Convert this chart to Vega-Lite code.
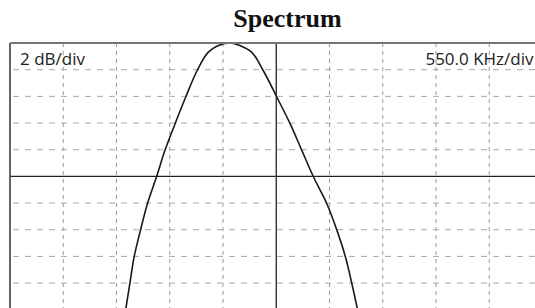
{
  "$schema": "https://vega.github.io/schema/vega-lite/v6.json",
  "width": 525,
  "height": 265,
  "autosize": {"type": "none"},
  "padding": {"left": 10, "top": 43, "right": 0, "bottom": 0},
  "background": "white",
  "title": {"text": "Spectrum", "font": "Liberation Serif", "fontSize": 26, "fontWeight": "bold", "color": "#111111", "anchor": "middle", "dx": 15, "offset": 10},
  "config": {
    "view": {"stroke": null}
  },
  "datasets": {
    "curve": [
      {"f": -2.83, "db": -20.05}, {"f": -2.75, "db": -18.05}, {"f": -2.67, "db": -16.05},
      {"f": -2.55, "db": -14.05}, {"f": -2.42, "db": -12.05}, {"f": -2.25, "db": -10.05},
      {"f": -2.09, "db": -8.05}, {"f": -1.90, "db": -6.05}, {"f": -1.70, "db": -4.05},
      {"f": -1.49, "db": -2.1}, {"f": -1.28, "db": -0.7},
      {"f": -1.06, "db": -0.15}, {"f": -0.88, "db": 0}, {"f": -0.71, "db": -0.15},
      {"f": -0.46, "db": -0.7}, {"f": -0.24, "db": -2.1}, {"f": 0.01, "db": -4.05},
      {"f": 0.26, "db": -6.05}, {"f": 0.48, "db": -8.05}, {"f": 0.70, "db": -10.05},
      {"f": 0.95, "db": -12.05}, {"f": 1.14, "db": -14.05}, {"f": 1.30, "db": -16.05},
      {"f": 1.42, "db": -18.05}, {"f": 1.53, "db": -20.05}
    ],
    "grid_v": [{"f": -4}, {"f": -3}, {"f": -2}, {"f": -1}, {"f": 1}, {"f": 2}, {"f": 3}, {"f": 4}],
    "grid_h": [{"db": -2}, {"db": -4}, {"db": -6}, {"db": -8}, {"db": -12}, {"db": -14}, {"db": -16}, {"db": -18}],
    "center_v": [{"f": 0}],
    "center_h": [{"db": -10}],
    "border_v": [{"f": -5}],
    "border_h": [{"db": 0}],
    "labels": [{"f": -5, "db": 0, "label": "2 dB/div"}],
    "labels_r": [{"f": 5, "db": 0, "label": "550.0 KHz/div"}]
  },
  "layer": [
    {
      "data": {"name": "grid_v"},
      "mark": {"type": "rule", "color": "#9a9a9a", "strokeWidth": 1, "strokeDash": [4, 4]},
      "encoding": {"x": {"field": "f", "type": "quantitative", "scale": {"domain": [-5, 4.859], "nice": false, "zero": false}, "axis": null}}
    },
    {
      "data": {"name": "grid_h"},
      "mark": {"type": "rule", "color": "#a8a8a8", "strokeWidth": 1, "strokeDash": [6, 6]},
      "encoding": {"y": {"field": "db", "type": "quantitative", "scale": {"domain": [-19.87, 0], "nice": false, "zero": false}, "axis": null}}
    },
    {
      "data": {"name": "curve"},
      "mark": {"type": "line", "interpolate": "catmull-rom", "clip": true, "color": "#1a1a1a", "strokeWidth": 1.6},
      "encoding": {
        "x": {"field": "f", "type": "quantitative", "scale": {"domain": [-5, 4.859], "nice": false, "zero": false}, "axis": null},
        "y": {"field": "db", "type": "quantitative", "scale": {"domain": [-19.87, 0], "nice": false, "zero": false}, "axis": null}
      }
    },
    {
      "data": {"name": "center_v"},
      "mark": {"type": "rule", "color": "#222222", "strokeWidth": 1.3},
      "encoding": {"x": {"field": "f", "type": "quantitative", "axis": null}}
    },
    {
      "data": {"name": "center_h"},
      "mark": {"type": "rule", "color": "#222222", "strokeWidth": 1.3},
      "encoding": {"y": {"field": "db", "type": "quantitative", "axis": null}}
    },
    {
      "data": {"name": "border_v"},
      "mark": {"type": "rule", "color": "#555555", "strokeWidth": 1.8},
      "encoding": {"x": {"field": "f", "type": "quantitative", "axis": null}}
    },
    {
      "data": {"name": "border_h"},
      "mark": {"type": "rule", "color": "#777777", "strokeWidth": 1.8},
      "encoding": {"y": {"field": "db", "type": "quantitative", "axis": null}}
    },
    {
      "data": {"name": "labels"},
      "mark": {"type": "text", "font": "Open Sans", "fontSize": 17, "color": "#222222", "align": "left", "baseline": "alphabetic", "dx": 10, "dy": 22},
      "encoding": {
        "x": {"field": "f", "type": "quantitative", "axis": null},
        "y": {"field": "db", "type": "quantitative", "axis": null},
        "text": {"field": "label"}
      }
    },
    {
      "data": {"name": "labels_r"},
      "mark": {"type": "text", "font": "Open Sans", "fontSize": 17, "color": "#222222", "align": "right", "baseline": "alphabetic", "dx": -9, "dy": 22},
      "encoding": {
        "x": {"field": "f", "type": "quantitative", "axis": null},
        "y": {"field": "db", "type": "quantitative", "axis": null},
        "text": {"field": "label"}
      }
    }
  ]
}
